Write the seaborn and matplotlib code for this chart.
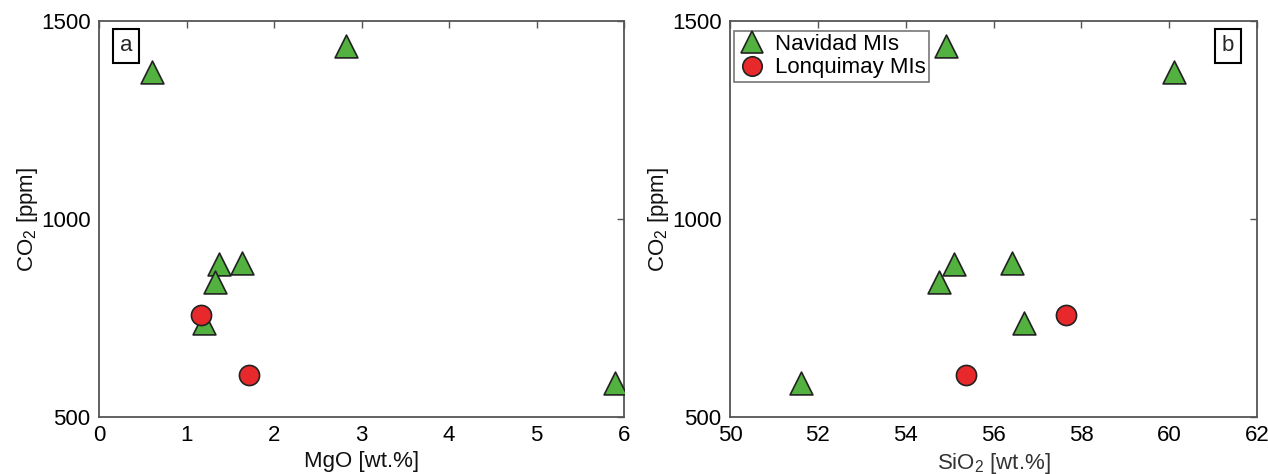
import matplotlib
matplotlib.use("Agg")
import matplotlib.pyplot as plt
import numpy as np
import pandas as pd
import seaborn as sns

# melt inclusion data
nav_mgo = [2.82, 0.60, 1.37, 1.63, 1.32, 1.20, 5.90]
nav_sio2 = [54.91, 60.12, 55.09, 56.42, 54.75, 56.70, 51.61]
nav_co2 = [1438, 1370, 887, 889, 840, 737, 585]

lon_mgo = [1.17, 1.71]
lon_sio2 = [57.65, 55.37]
lon_co2 = [758, 605]

groups = ["Navidad MIs", "Lonquimay MIs"]

df = pd.DataFrame({
    "MgO": nav_mgo + lon_mgo,
    "SiO2": nav_sio2 + lon_sio2,
    "CO2": nav_co2 + lon_co2,
    "group": [groups[0]] * len(nav_co2) + [groups[1]] * len(lon_co2),
})

sns.set_style("white")
plt.rcParams["font.family"] = ["Liberation Sans", "DejaVu Sans"]
plt.rcParams["mathtext.fontset"] = "custom"
plt.rcParams["mathtext.rm"] = "Liberation Sans"

pal = {groups[0]: "#52b13f", groups[1]: "#e8292b"}
mk = {groups[0]: "^", groups[1]: "o"}

fig = plt.figure(figsize=(12.68, 4.74), dpi=100)
ax1 = fig.add_axes([99 / 1268, 57 / 474, 525 / 1268, 396 / 474])
ax2 = fig.add_axes([730 / 1268, 57 / 474, 527 / 1268, 396 / 474])

for ax, xcol in [(ax1, "MgO"), (ax2, "SiO2")]:
    for g in groups:
        sub = df[df.group == g]
        sns.scatterplot(data=sub, x=xcol, y="CO2", marker=mk[g], color=pal[g],
                        s=270 if g == groups[0] else 210, edgecolor="#222222",
                        linewidth=1.2, label=g, ax=ax, legend=False, zorder=3)

ax1.set_xlim(0, 6)
ax1.set_xticks(range(0, 7))
ax2.set_xlim(50, 62)
ax2.set_xticks(range(50, 63, 2))
ax1.set_xlabel("MgO [wt.%]", fontsize=16, labelpad=3, color="#111111")
ax2.set_xlabel("SiO$_2$ [wt.%]", fontsize=16, labelpad=3, color="#333333")

for ax in (ax1, ax2):
    ax.set_ylim(500, 1500)
    ax.set_yticks([500, 1000, 1500])
    ax.set_ylabel("CO$_2$ [ppm]", fontsize=16, labelpad=1, color="#111111")
    ax.tick_params(direction="in", length=5, width=1, labelsize=16, labelcolor="black",
                   top=True, right=True, color="#555555", pad=6)
    for sp in ax.spines.values():
        sp.set_color("#555555")
        sp.set_linewidth(1.3)

ax1.text(0.052, 0.937, "a", transform=ax1.transAxes, fontsize=16, va="center", ha="center",
         bbox=dict(boxstyle="square,pad=0.3", fc="white", ec="black", lw=1.5))
ax2.text(0.945, 0.937, "b", transform=ax2.transAxes, fontsize=16, va="center", ha="center",
         bbox=dict(boxstyle="square,pad=0.3", fc="white", ec="black", lw=1.5))

h = [plt.Line2D([], [], marker=mk[g], ls="", markersize=16 if g == groups[0] else 14,
                markerfacecolor=pal[g], markeredgecolor="#222222", markeredgewidth=1.2)
     for g in groups]
leg = ax2.legend(h, groups, loc="upper left", bbox_to_anchor=(0.008, 0.975), fontsize=16,
                 frameon=True, fancybox=False, borderaxespad=0, handletextpad=0.4,
                 borderpad=0.15, labelspacing=0.1, handlelength=1.3)
leg.get_frame().set_edgecolor("#555555")
leg.get_frame().set_linewidth(1.2)
for t in leg.get_texts():
    t.set_color("black")

fig.savefig("out.png", dpi=100)
